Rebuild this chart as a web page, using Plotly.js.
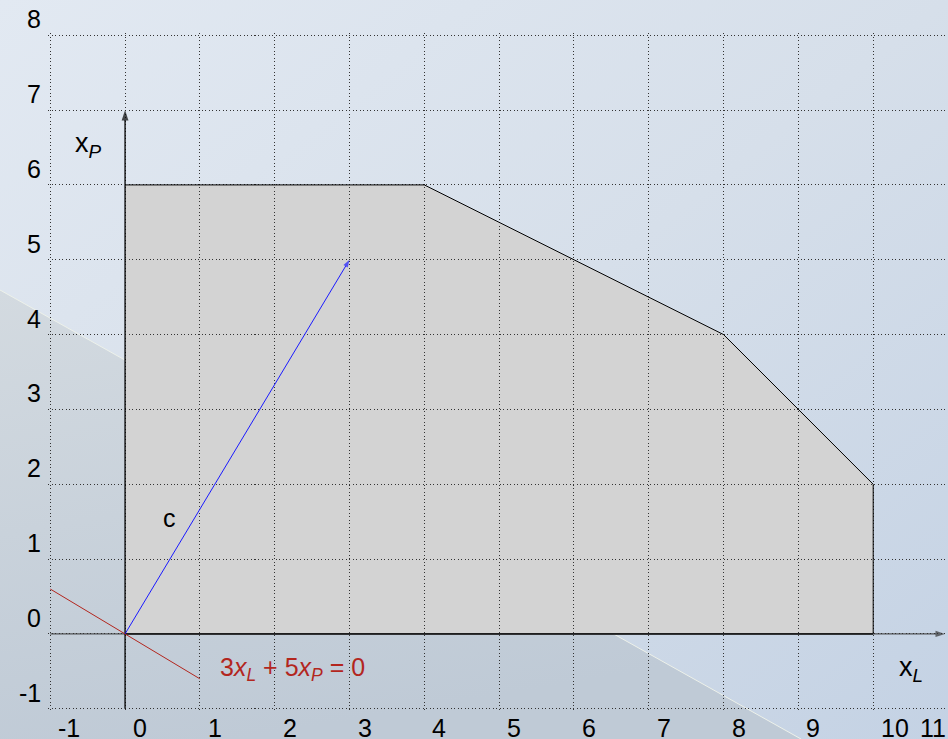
<!DOCTYPE html>
<html>
<head>
<meta charset="utf-8">
<script src="https://cdn.plot.ly/plotly-3.0.1.min.js"></script>
<style>
  html, body { margin:0; padding:0; width:948px; height:739px; overflow:hidden; }
  #bg { position:absolute; left:0; top:0; z-index:0; }
  #chart { position:absolute; left:0; top:0; width:948px; height:739px; z-index:1; }
</style>
</head>
<body>
<svg id="bg" width="948" height="739" xmlns="http://www.w3.org/2000/svg">
  <defs>
    <linearGradient id="gMain" x1="0" y1="0" x2="1" y2="1">
      <stop offset="0" stop-color="#e2e9f2"/>
      <stop offset="0.5" stop-color="#d6dfea"/>
      <stop offset="1" stop-color="#c4d2e4"/>
    </linearGradient>
    <linearGradient id="gBand" x1="0" y1="0" x2="0.3" y2="1">
      <stop offset="0" stop-color="#d3dae0"/>
      <stop offset="1" stop-color="#bfcad6"/>
    </linearGradient>
  </defs>
  <rect x="0" y="0" width="948" height="739" fill="url(#gMain)"/>
  <polygon points="0,290 801,739 0,739" fill="url(#gBand)"/>
  <line x1="0" y1="290" x2="801" y2="739" stroke="#edf1ea" stroke-width="1"/>
</svg>
<div id="chart"></div>
<script>
// ---- data ----
const xTicks = [-1, 0, 1, 2, 3, 4, 5, 6, 7, 8, 9, 10, 11];
const xTickText = ["-1", "0", "1", "2", "3", "4", "5", "6", "7", "8", "9", "10", "11"];
const yTicks = [-1, 0, 1, 2, 3, 4, 5, 6, 7, 8];
const yTickText = ["-1", "0", "1", "2", "3", "4", "5", "6", "7", "8"];
const regionX = [0, 0, 4, 8, 10, 10];
const regionY = [0, 6, 6, 4, 2, 0];
const cVecX = [0, 3];
const cVecY = [0, 5];
const isoX = [-1, 1];
const isoY = [0.6, -0.6];
const yAxisX = [0, 0];
const yAxisY = [-1, 7];
const xAxisX = [-1, 10.96];
const xAxisY = [0, 0];

const XR = [-1.03, 11];
const YR = [-1.03, 8.03];

// feasible region fill as a shape beneath the grid
const path = regionX.map((x, i) => (i === 0 ? 'M ' : 'L ') + x + ',' + regionY[i]).join(' ') + ' Z';

function arrowMarker(color, size) {
  return { symbol: ['circle', 'arrow'], size: [0, size], angleref: 'previous', color: color, line: {width: 0} };
}

const traces = [
  { x: regionX.slice(1), y: regionY.slice(1), mode: 'lines', line: {color: '#000', width: 1}, hoverinfo: 'skip' },
  { x: [regionX[0], regionX[regionX.length - 1]], y: [regionY[0], regionY[regionY.length - 1]], mode: 'lines', line: {color: '#000', width: 1.6}, hoverinfo: 'skip' },
  { x: xAxisX, y: xAxisY, mode: 'lines+markers', line: {color: '#333', width: 1}, marker: arrowMarker('#333', 10), hoverinfo: 'skip' },
  { x: yAxisX, y: yAxisY, mode: 'lines+markers', line: {color: '#000', width: 1.3}, marker: arrowMarker('#000', 11), hoverinfo: 'skip' },
  { x: isoX, y: isoY, mode: 'lines', line: {color: '#b3261e', width: 1}, hoverinfo: 'skip' },
  { x: cVecX, y: cVecY, mode: 'lines+markers', line: {color: '#1a1aff', width: 1}, marker: arrowMarker('#1a1aff', 8), hoverinfo: 'skip' }
];

const tickFont = {family: 'Liberation Sans, Arial, sans-serif', size: 25, color: '#000'};
const annotations = [];
xTicks.forEach((v, i) => {
  const last = i === xTicks.length - 1;
  annotations.push({
    x: v, xref: 'x', y: 0, yref: 'paper', text: xTickText[i], showarrow: false,
    xanchor: last ? 'right' : 'left', yanchor: 'top', xshift: last ? 0 : 6, yshift: -1,
    font: tickFont
  });
});
yTicks.forEach((v, i) => {
  annotations.push({
    x: 0, xref: 'paper', y: v, yref: 'y', text: yTickText[i], showarrow: false,
    xanchor: 'right', yanchor: 'middle', xshift: -5, yshift: 16, font: tickFont
  });
});
// labels
const labFont = {family: 'Liberation Sans, Arial, sans-serif', size: 27, color: '#000'};
annotations.push({ x: -0.49, y: 6.53, xref: 'x', yref: 'y', text: 'x<sub><i>P</i></sub>', showarrow: false, font: labFont });
annotations.push({ x: 10.5, y: -0.47, xref: 'x', yref: 'y', text: 'x<sub><i>L</i></sub>', showarrow: false, font: labFont });
annotations.push({ x: 0.59, y: 1.55, xref: 'x', yref: 'y', text: 'c', showarrow: false,
  font: {family: 'Liberation Sans, Arial, sans-serif', size: 25, color: '#000'} });
annotations.push({ x: 1.24, y: -0.47, xref: 'x', yref: 'y', xanchor: 'left', showarrow: false,
  text: '3<i>x</i><sub><i>L</i></sub> + 5<i>x</i><sub><i>P</i></sub> = 0',
  font: {family: 'Liberation Sans, Arial, sans-serif', size: 25, color: '#b3261e'} });

const layout = {
  width: 948, height: 739,
  margin: {l: 48, r: 0, t: 33, b: 28, pad: 0},
  paper_bgcolor: 'rgba(0,0,0,0)',
  plot_bgcolor: 'rgba(0,0,0,0)',
  showlegend: false,
  xaxis: { range: XR, tickvals: xTicks, showticklabels: false, ticks: '', showgrid: true,
    gridcolor: '#333', gridwidth: 1, griddash: '1px,2.5px', zeroline: false, showline: false, fixedrange: true },
  yaxis: { range: YR, tickvals: yTicks, showticklabels: false, ticks: '', showgrid: true,
    gridcolor: '#333', gridwidth: 1, griddash: '1px,2.5px', zeroline: false, showline: false, fixedrange: true },
  shapes: [{ type: 'path', path: path, xref: 'x', yref: 'y', layer: 'below', fillcolor: '#d3d3d3', line: {width: 0} }],
  annotations: annotations
};

Plotly.newPlot('chart', traces, layout, {displayModeBar: false, staticPlot: true});
</script>
</body>
</html>
